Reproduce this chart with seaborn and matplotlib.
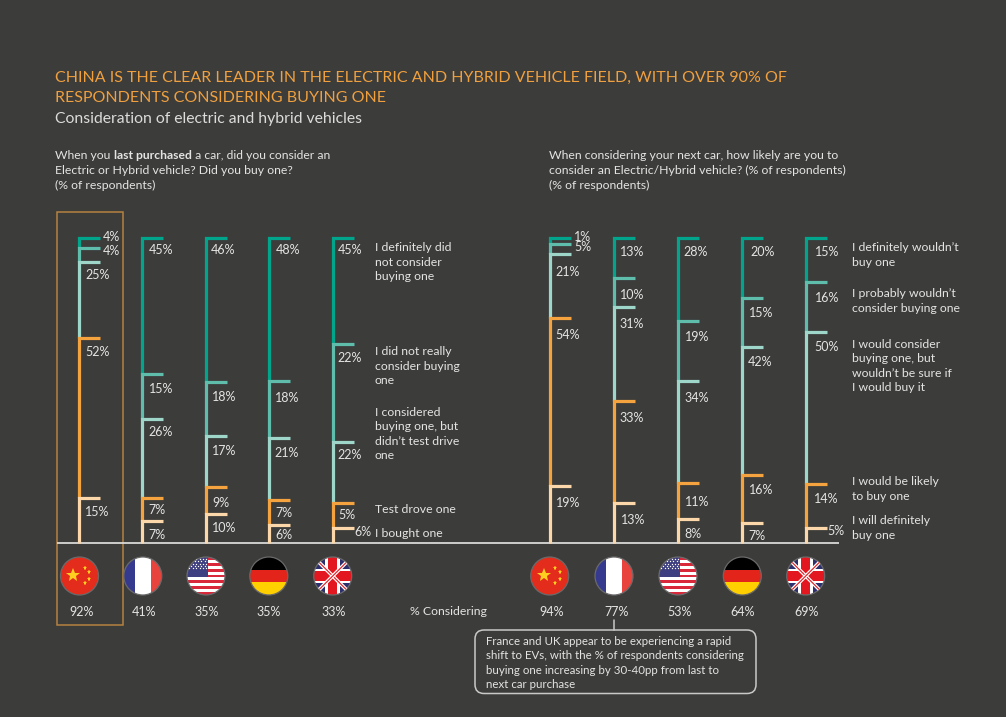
import numpy as np
import pandas as pd
import matplotlib
matplotlib.use('Agg')
import matplotlib.pyplot as plt
import seaborn as sns
from matplotlib.patches import Circle, Rectangle, FancyBboxPatch

# --- data -------------------------------------------------------------------
countries = ['China', 'France', 'USA', 'Germany', 'UK']

# drawn heights of each step (they differ a bit from the printed labels)
left_values = [
    [3.3, 4.6, 24.9, 52.5, 14.8],
    [44.6, 14.7, 26.0, 7.4, 7.3],
    [47.1, 17.6, 16.9, 8.9, 9.4],
    [46.8, 18.8, 20.4, 8.0, 6.0],
    [34.7, 32.1, 20.0, 8.2, 5.0],
]
right_values = [
    [2.1, 3.1, 21.0, 55.2, 18.6],
    [13.0, 9.6, 30.8, 33.6, 13.0],
    [27.2, 19.6, 33.6, 11.7, 7.9],
    [19.8, 15.9, 42.0, 15.9, 6.4],
    [14.5, 16.2, 49.8, 14.7, 4.8],
]
left_labels = [
    ['4%', '4%', '25%', '52%', '15%'],
    ['45%', '15%', '26%', '7%', '7%'],
    ['46%', '18%', '17%', '9%', '10%'],
    ['48%', '18%', '21%', '7%', '6%'],
    ['45%', '22%', '22%', '5%', '6%'],
]
right_labels = [
    ['1%', '5%', '21%', '54%', '19%'],
    ['13%', '10%', '31%', '33%', '13%'],
    ['28%', '19%', '34%', '11%', '8%'],
    ['20%', '15%', '42%', '16%', '7%'],
    ['15%', '16%', '50%', '14%', '5%'],
]
left_considering = ['92%', '41%', '35%', '35%', '33%']
right_considering = ['94%', '77%', '53%', '64%', '69%']

left_responses = ['I definitely did\nnot consider\nbuying one',
                  'I did not really\nconsider buying\none',
                  'I considered\nbuying one, but\ndidn\u2019t test drive\none',
                  'Test drove one',
                  'I bought one']
right_responses = ['I definitely wouldn\u2019t\nbuy one',
                   'I probably wouldn\u2019t\nconsider buying one',
                   'I would consider\nbuying one, but\nwouldn\u2019t be sure if\nI would buy it',
                   'I would be likely\nto buy one',
                   'I will definitely\nbuy one']

title_lines = ['CHINA IS THE CLEAR LEADER IN THE ELECTRIC AND HYBRID VEHICLE FIELD, WITH OVER 90% OF',
               'RESPONDENTS CONSIDERING BUYING ONE']
subtitle = 'Consideration of electric and hybrid vehicles'
right_question = ['When considering your next car, how likely are you to',
                  'consider an Electric/Hybrid vehicle? (% of respondents)',
                  '(% of respondents)']
callout = ('France and UK appear to be experiencing a rapid\n'
           'shift to EVs, with the % of respondents considering\n'
           'buying one increasing by 30-40pp from last to\n'
           'next car purchase')

# --- layout (pixels of the 1006x717 picture) --------------------------------
BG = '#3c3c3b'
TXT = '#e4e4e2'
ORANGE = '#f0a03e'
step_colors = {0: '#00a58c', 1: '#5fbdac', 2: '#9fd6ca', 3: '#f5a33e', 4: '#fbd7aa'}

left_x = [79.3, 142.3, 205.7, 269, 332.7]
right_x = [550, 614.3, 678.3, 742.3, 806]
tick_len = 21
base_px, top_px = 543, 238

left_label_x = [[111, 111, 97.5, 97.5, 97.5], [161, 161, 161, 157, 157], [223, 224, 224, 221, 224],
                [288, 287, 287, 284, 284], [350, 350, 350, 347, 363]]
left_label_y = [[237, 251, 275, 351.5, 512], [250, 389, 432, 510, 535], [250, 397, 451, 503, 528],
                [250, 398, 453, 513, 535], [250, 358, 455, 515, 532]]
right_label_x = [[582.7, 583, 568, 568, 568], [632, 632, 632, 632, 633], [696, 696.7, 696.7, 697, 693],
                 [763, 760.7, 760, 760.7, 757], [826.7, 826.7, 826.7, 826.7, 836]]
right_label_y = [[237, 247, 271.7, 335, 503], [252, 295, 324, 418, 520], [252, 337, 398, 501.5, 534],
                 [252, 313, 362, 490, 535.5], [252, 298, 347, 499, 531]]
left_resp_y = [262, 366, 434, 509.5, 533.5]
right_resp_y = [255, 301, 366, 489, 528]
left_pct_x = [81.7, 144, 207, 269, 334]
right_pct_x = [551.7, 616.7, 680, 742.7, 807]
left_flag_x = [79.5, 142.8, 206, 268.8, 332.7]
right_flag_x = [549.7, 614, 678, 742.3, 805.7]
flag_y, flag_r = 576, 19


def build_steps(values, xs, panel):
    rows = []
    for vals, x, name in zip(values, xs, countries):
        tops = np.cumsum(vals[::-1])[::-1]
        bottoms = np.append(tops[1:], 0)
        for i in range(len(vals)):
            seg = f'{panel}-{name}-{i}'
            rows.append(dict(seg=seg, step=i, x=x, y=bottoms[i]))
            rows.append(dict(seg=seg, step=i, x=x, y=tops[i]))
            rows.append(dict(seg=seg, step=i, x=x + tick_len, y=tops[i]))
    return rows


def draw_china(ax, cx, cy, r, clip):
    star = dict(marker='*', color='#ffcf1f', ls='none')
    ax.add_patch(Circle((cx, cy), r, fc='#e42c1c', ec='none'))
    ax.plot(cx - 6, cy - 1.5, ms=10, mew=0, **star)
    for dx, dy in [(5.7, -8), (10, -3.6), (10, 3), (5.7, 7.3)]:
        ax.plot(cx + dx, cy + dy, ms=3.6, mew=0, **star)


def draw_france(ax, cx, cy, r, clip):
    for x0, w, c in [(-r, 11, '#353a8f'), (-8, 16, 'white'), (8, 11, '#e8433d')]:
        patch = Rectangle((cx + x0, cy - r), w, 2 * r, fc=c, ec='none')
        ax.add_patch(patch)
        patch.set_clip_path(clip)


def draw_usa(ax, cx, cy, r, clip):
    h = 2 * r / 13
    for i in range(13):
        c = '#d8283a' if i % 2 == 0 else 'white'
        patch = Rectangle((cx - r, cy - r + i * h), 2 * r, h, fc=c, ec='none')
        ax.add_patch(patch)
        patch.set_clip_path(clip)
    canton = Rectangle((cx - r, cy - r), 21, 7 * h, fc='#3e3f80', ec='none')
    ax.add_patch(canton)
    canton.set_clip_path(clip)
    for row in range(5):
        for col in range(6):
            dot_x = cx - r + 2.5 + col * 3.4 + (row % 2) * 1.7
            dot_y = cy - r + 2 + row * 2.3
            pts = ax.plot(dot_x, dot_y, 'o', ms=1.0, mew=0, color='white')[0]
            pts.set_clip_path(clip)


def draw_germany(ax, cx, cy, r, clip):
    for i, c in enumerate(['black', '#e3241b', '#ffcf00']):
        patch = Rectangle((cx - r, cy - r + i * 2 * r / 3), 2 * r, 2 * r / 3, fc=c, ec='none')
        ax.add_patch(patch)
        patch.set_clip_path(clip)


def draw_uk(ax, cx, cy, r, clip):
    blue = Rectangle((cx - r, cy - r), 2 * r, 2 * r, fc='#2d2f6e', ec='none')
    ax.add_patch(blue)
    blue.set_clip_path(clip)
    for sign in (1, -1):
        for lw, c in [(2.6, 'white'), (0.8, '#e3171f')]:
            line = ax.plot([cx - r, cx + r], [cy - sign * r, cy + sign * r], color=c, lw=lw,
                           solid_capstyle='butt')[0]
            line.set_clip_path(clip)
    for w, c in [(14.5, 'white'), (9.5, '#e3171f')]:
        for rect in [Rectangle((cx - w / 2, cy - r), w, 2 * r, fc=c, ec='none'),
                     Rectangle((cx - r, cy - w / 2), 2 * r, w, fc=c, ec='none')]:
            ax.add_patch(rect)
            rect.set_clip_path(clip)


flag_painters = [draw_china, draw_france, draw_usa, draw_germany, draw_uk]


def draw_flag(ax, painter, cx, cy):
    clip = Circle((cx, cy), flag_r, transform=ax.transData, fc='none', ec='none')
    ax.add_patch(clip)
    painter(ax, cx, cy, flag_r, clip)
    ax.add_patch(Circle((cx, cy), flag_r, fc='none', ec='#6a6a6a', lw=0.9))


def mixed_line(ax, x, y, pieces, size):
    # one line of text with some words in bold, pieces placed one after the other
    renderer = ax.figure.canvas.get_renderer()
    for txt, weight in pieces:
        t = ax.text(x, y, txt, color=TXT, fontsize=size, fontweight=weight, va='center', ha='left')
        x = x + t.get_window_extent(renderer).width


# --- figure -----------------------------------------------------------------
sns.set_theme(style='white')
plt.rcParams['font.family'] = ['Lato', 'DejaVu Sans']

W, H = 1006, 717
fig = plt.figure(figsize=(W / 100, H / 100), dpi=100, facecolor=BG)

# page axes in pixel coordinates for text, flags and frames
page = fig.add_axes([0, 0, 1, 1])
page.set_xlim(0, W)
page.set_ylim(H, 0)
page.axis('off')

# chart axes: x in pixels, y in % of respondents
ax = fig.add_axes([0, (H - base_px) / H, 1, (base_px - top_px) / H])
ax.patch.set_alpha(0)
ax.set_xlim(0, W)
ax.set_ylim(0, 100)
ax.axis('off')

steps = pd.DataFrame(build_steps(left_values, left_x, 'last') + build_steps(right_values, right_x, 'next'))
sns.lineplot(data=steps, x='x', y='y', hue='step', units='seg', estimator=None, sort=False,
             palette=step_colors, lw=2.3, legend=False, ax=ax, clip_on=False,
             solid_capstyle='butt', solid_joinstyle='miter')

page.plot([57, 839], [543.3, 543.3], color='#d9d9d7', lw=1.3, solid_capstyle='butt')

# highlight around China
page.add_patch(Rectangle((56.7, 211.7), 66, 413, fc='none', ec='#b5823f', lw=1.1))

# titles
LABEL = 8.8
VALUE = 9.0
for line, y in zip(title_lines, [77.5, 97.7]):
    page.text(55, y, line, color=ORANGE, fontsize=11.55, va='center', ha='left')
page.text(55, 119.3, subtitle, color='#dcdcda', fontsize=11.3, va='center', ha='left')

fig.canvas.draw()
mixed_line(page, 55.5, 155.5, [('When you ', 'normal'), ('last purchased', 'bold'),
                               (' a car, did you consider an', 'normal')], 8.75)
page.text(55.5, 170, 'Electric or Hybrid vehicle? Did you buy one?', color=TXT, fontsize=LABEL, va='center')
page.text(55.5, 185, '(% of respondents)', color=TXT, fontsize=LABEL, va='center')
for line, y in zip(right_question, [155.5, 170, 185]):
    page.text(549, y, line, color=TXT, fontsize=LABEL, va='center')

# value labels
for labels, lx, ly in [(left_labels, left_label_x, left_label_y), (right_labels, right_label_x, right_label_y)]:
    for col, col_x, col_y in zip(labels, lx, ly):
        for lab, x, y in zip(col, col_x, col_y):
            page.text(x, y, lab, color=TXT, fontsize=VALUE, ha='center', va='center')

# response labels
for resp, y in zip(left_responses, left_resp_y):
    page.text(375, y, resp, color=TXT, fontsize=LABEL, va='center', linespacing=1.36)
for resp, y in zip(right_responses, right_resp_y):
    page.text(852.3, y, resp, color=TXT, fontsize=LABEL, va='center', linespacing=1.36)

# flags and % considering row
for painter, x in zip(flag_painters, left_flag_x):
    draw_flag(page, painter, x, flag_y)
for painter, x in zip(flag_painters, right_flag_x):
    draw_flag(page, painter, x, flag_y)
for lab, x in zip(left_considering, left_pct_x):
    page.text(x, 611.5, lab, color=TXT, fontsize=VALUE, ha='center', va='center')
for lab, x in zip(right_considering, right_pct_x):
    page.text(x, 611.5, lab, color=TXT, fontsize=VALUE, ha='center', va='center')
page.text(448, 611.5, '% Considering', color=TXT, fontsize=LABEL, ha='center', va='center')

# callout
page.plot([614, 614], [620, 630], color='#c9c9c7', lw=1.1)
page.add_patch(FancyBboxPatch((481, 636), 269, 51.5, boxstyle='round,pad=6,rounding_size=9',
                              fc=BG, ec='#c9c9c7', lw=1.1))
page.text(486, 663, callout, color=TXT, fontsize=8.3, va='center', linespacing=1.34)

fig.savefig('out.png', dpi=100, facecolor=BG)
